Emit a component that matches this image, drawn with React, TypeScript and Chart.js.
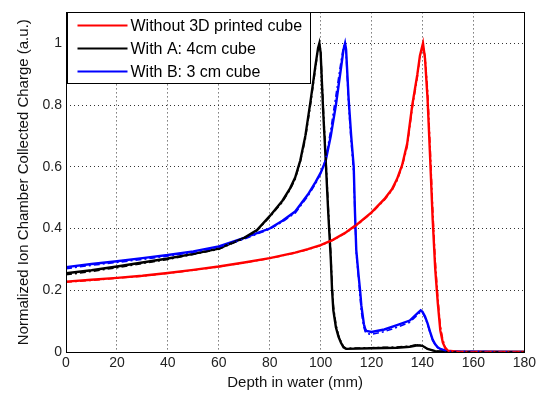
import React, { useEffect, useRef } from "react";
import { Chart, registerables } from "chart.js";

Chart.register(...registerables);

const xTicks = [0, 20, 40, 60, 80, 100, 120, 140, 160, 180];
const yTicks = [0, 0.2, 0.4, 0.6, 0.8, 1];

const legendLabels = ["Without 3D printed cube", "With A: 4cm cube", "With B: 3 cm cube"];
const seriesColors = ["#ff0000", "#000000", "#0000ff"];

const redX = [0, 10, 20, 30, 40, 50, 60, 70, 80, 90, 95, 100, 105, 110, 115, 120, 125, 128, 130, 132, 134, 136, 138, 139, 140.2, 141, 142, 143, 144, 145, 146, 147, 148, 149, 150, 155, 165, 180];
const redY = [0.228, 0.234, 0.24, 0.247, 0.256, 0.266, 0.277, 0.29, 0.304, 0.322, 0.333, 0.346, 0.364, 0.388, 0.418, 0.452, 0.495, 0.527, 0.56, 0.605, 0.675, 0.8, 0.9, 0.96, 1.0, 0.95, 0.82, 0.63, 0.43, 0.27, 0.16, 0.07, 0.03, 0.012, 0.004, 0, 0, 0];
const red2Y = [0.226, 0.232, 0.239, 0.246, 0.255, 0.265, 0.276, 0.289, 0.303, 0.321, 0.332, 0.345, 0.363, 0.386, 0.416, 0.45, 0.492, 0.523, 0.555, 0.6, 0.665, 0.79, 0.89, 0.955, 0.99, 0.96, 0.85, 0.67, 0.47, 0.3, 0.18, 0.085, 0.04, 0.015, 0.005, 0, 0, 0];

const blackX = [0, 10, 20, 30, 40, 50, 60, 70, 75, 80, 85, 88, 90, 92, 94, 96, 98, 99, 99.5, 100, 101, 102, 103, 104, 104.5, 105, 106, 107, 108, 109, 110, 120, 130, 135, 138, 140, 142, 145, 150, 180];
const blackY = [0.255, 0.265, 0.277, 0.29, 0.303, 0.318, 0.335, 0.37, 0.395, 0.44, 0.49, 0.53, 0.565, 0.62, 0.7, 0.81, 0.93, 0.985, 1.0, 0.97, 0.78, 0.62, 0.45, 0.3, 0.2, 0.135, 0.08, 0.05, 0.03, 0.015, 0.01, 0.012, 0.014, 0.017, 0.022, 0.02, 0.01, 0.003, 0, 0];
const black2Y = [0.25, 0.261, 0.273, 0.287, 0.3, 0.316, 0.333, 0.368, 0.393, 0.437, 0.486, 0.526, 0.56, 0.615, 0.69, 0.8, 0.92, 0.98, 0.995, 0.98, 0.8, 0.64, 0.47, 0.32, 0.22, 0.15, 0.09, 0.055, 0.033, 0.017, 0.012, 0.014, 0.016, 0.019, 0.024, 0.02, 0.01, 0.003, 0, 0];

const blueX = [0, 10, 20, 30, 40, 50, 60, 70, 75, 80, 85, 90, 95, 98, 100, 102, 104, 106, 108, 109, 109.6, 110, 111, 112, 113, 113.5, 114, 115, 115.5, 116, 117, 117.5, 118, 120, 125, 130, 135, 138, 139.3, 140, 141, 142, 143, 144, 145, 146, 147, 150, 180];
const blueY = [0.275, 0.285, 0.294, 0.304, 0.314, 0.326, 0.342, 0.37, 0.385, 0.4, 0.425, 0.455, 0.51, 0.55, 0.58, 0.62, 0.7, 0.8, 0.92, 0.98, 1.0, 0.98, 0.82, 0.7, 0.6, 0.45, 0.33, 0.24, 0.2, 0.15, 0.09, 0.075, 0.068, 0.065, 0.073, 0.087, 0.102, 0.125, 0.135, 0.13, 0.115, 0.093, 0.065, 0.04, 0.025, 0.015, 0.01, 0.002, 0];
const blue2Y = [0.27, 0.281, 0.29, 0.3, 0.311, 0.323, 0.339, 0.366, 0.382, 0.398, 0.422, 0.45, 0.505, 0.545, 0.578, 0.625, 0.72, 0.83, 0.94, 0.99, 0.995, 0.97, 0.8, 0.68, 0.58, 0.44, 0.32, 0.23, 0.18, 0.13, 0.08, 0.066, 0.06, 0.057, 0.066, 0.08, 0.096, 0.12, 0.13, 0.128, 0.112, 0.09, 0.062, 0.038, 0.024, 0.014, 0.009, 0.002, 0];

const toPts = (xs: number[], ys: number[]) => xs.map((x, i) => ({ x, y: ys[i] }));

const frameAndLegend = {
  id: "frameAndLegend",
  afterDraw(chart: any) {
    const { ctx, chartArea } = chart;
    const { left, top, right, bottom } = chartArea;
    ctx.save();
    ctx.strokeStyle = "#000";
    ctx.lineWidth = 1;
    ctx.setLineDash([]);
    ctx.strokeRect(Math.round(left) + 0.5, Math.round(top) + 0.5, Math.round(right - left), Math.round(bottom - top));

    // legend
    const lx = Math.round(left) + 1.5;
    const ly = Math.round(top) + 0.5;
    const lw = 243;
    const lh = 71;
    ctx.fillStyle = "#fff";
    ctx.fillRect(lx, ly, lw, lh);
    ctx.strokeRect(lx, ly, lw, lh);
    ctx.font = "16px 'Liberation Sans', Arial, sans-serif";
    ctx.textBaseline = "middle";
    ctx.textAlign = "left";
    legendLabels.forEach((label, i) => {
      const y = ly + 13 + i * 23;
      ctx.strokeStyle = seriesColors[i];
      ctx.lineWidth = 2;
      ctx.beginPath();
      ctx.moveTo(lx + 10, y);
      ctx.lineTo(lx + 60, y);
      ctx.stroke();
      ctx.fillStyle = "#000";
      ctx.fillText(label, lx + 63, y + 1);
    });
    ctx.restore();
  },
};

export default function App() {
  const ref = useRef<HTMLCanvasElement>(null);
  useEffect(() => {
    if (!ref.current) return;
    const mk = (label: string, xs: number[], ys: number[], color: string, dashed: boolean) => ({
      label,
      data: toPts(xs, ys),
      borderColor: color,
      backgroundColor: color,
      borderWidth: dashed ? 1.6 : 2.4,
      borderDash: dashed ? [6, 3, 2, 3] : [],
      pointRadius: 0,
      tension: 0,
      fill: false,
    });
    const chart = new Chart(ref.current, {
      type: "line",
      data: {
        datasets: [
          mk("red2", redX, red2Y, seriesColors[0], true),
          mk("black2", blackX, black2Y, seriesColors[1], true),
          mk("blue2", blueX, blue2Y, seriesColors[2], true),
          mk(legendLabels[0], redX, redY, seriesColors[0], false),
          mk(legendLabels[1], blackX, blackY, seriesColors[1], false),
          mk(legendLabels[2], blueX, blueY, seriesColors[2], false),
        ],
      },
      options: {
        animation: false,
        responsive: false,
        maintainAspectRatio: false,
        layout: { padding: { top: 11, right: 12, left: 0, bottom: 0 } },
        plugins: { legend: { display: false }, tooltip: { enabled: false } },
        scales: {
          x: {
            type: "linear",
            min: 0,
            max: 180,
            afterBuildTicks: (s: any) => {
              s.ticks = xTicks.map((v) => ({ value: v }));
            },
            afterFit: (s: any) => {
              s.height = 44;
            },
            ticks: {
              color: "#222",
              font: { family: "'Liberation Sans', Arial, sans-serif", size: 14 },
              padding: 3,
              maxRotation: 0,
              autoSkip: false,
              callback: (v: any) => String(v),
            },
            grid: { color: "#333", lineWidth: 1, drawTicks: false },
            border: { display: false, dash: [1, 3] },
            title: {
              display: true,
              text: "Depth in water (mm)",
              color: "#111",
              font: { family: "'Liberation Sans', Arial, sans-serif", size: 15 },
              padding: { top: 0, bottom: 4 },
            },
          },
          y: {
            type: "linear",
            min: 0,
            max: 1.1,
            afterBuildTicks: (s: any) => {
              s.ticks = yTicks.map((v) => ({ value: v }));
            },
            afterFit: (s: any) => {
              s.width = 66;
            },
            ticks: {
              color: "#222",
              font: { family: "'Liberation Sans', Arial, sans-serif", size: 14 },
              padding: 4,
              autoSkip: false,
              callback: (v: any) => String(Math.round(v * 10) / 10),
            },
            grid: { color: "#333", lineWidth: 1, drawTicks: false },
            border: { display: false, dash: [1, 3] },
            title: {
              display: true,
              text: "Normalized Ion Chamber Collected Charge (a.u.)",
              color: "#111",
              font: { family: "'Liberation Sans', Arial, sans-serif", size: 15 },
              padding: { top: 15, bottom: 0 },
            },
          },
        },
      },
      plugins: [frameAndLegend],
    });
    return () => chart.destroy();
  }, []);
  return (
    <div style={{ position: "fixed", left: 0, top: 0, width: 539, height: 396, background: "#fff" }}>
      <canvas ref={ref} width={539} height={396} style={{ width: 539, height: 396, display: "block" }} />
    </div>
  );
}
